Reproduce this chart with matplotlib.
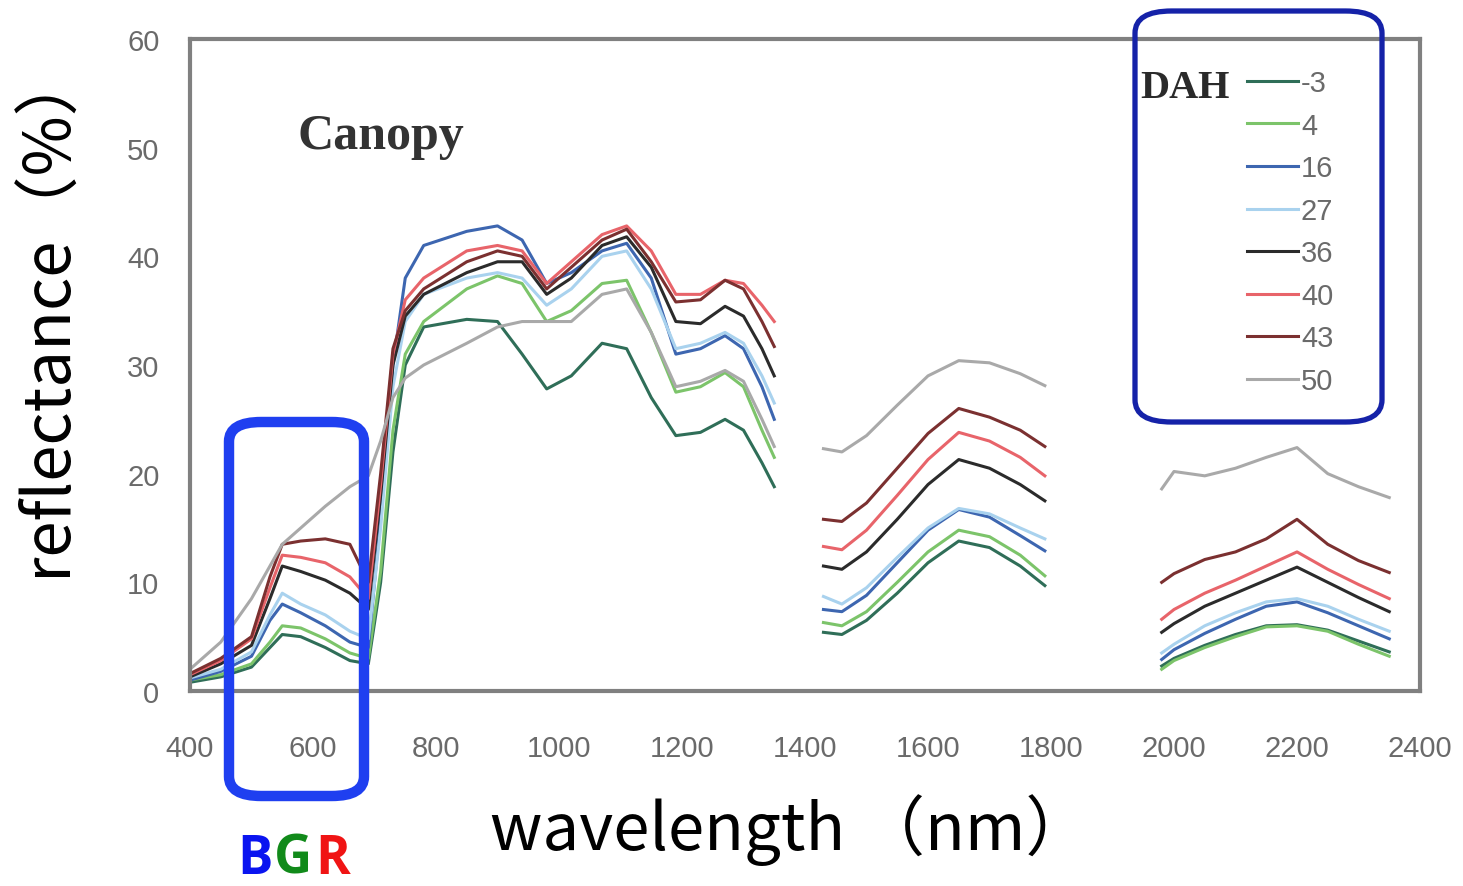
import matplotlib
matplotlib.use("Agg")
import matplotlib.pyplot as plt
from matplotlib.patches import FancyBboxPatch

# ---------------- data ----------------
dah_labels = ["-3", "4", "16", "27", "36", "40", "43", "50"]
colors = ["#2f6e58", "#7cc46a", "#3d66b0", "#a9d2ee", "#2b2b2b", "#e8646a", "#7b3030", "#a9a9a9"]

wl_seg1 = [400, 450, 500, 530, 550, 580, 620, 660, 690, 710, 730, 750, 780, 850, 900, 940,
           980, 1020, 1070, 1110, 1150, 1190, 1230, 1270, 1300, 1330, 1350]
wl_seg2 = [1430, 1460, 1500, 1550, 1600, 1650, 1700, 1750, 1790]
wl_seg3 = [1980, 2000, 2050, 2100, 2150, 2200, 2250, 2300, 2350]

seg1 = {
    "-3": [0.8, 1.3, 2.2, 4.0, 5.2, 5.0, 4.0, 2.8, 2.5, 10, 22, 30, 33.5, 34.2, 34, 31, 27.8, 29, 32, 31.5, 27, 23.5, 23.8, 25, 24, 21, 18.8],
    "4":  [1.0, 1.5, 2.5, 4.5, 6.0, 5.8, 4.8, 3.5, 3.0, 11, 24, 31, 34, 37, 38.2, 37.5, 34, 35, 37.5, 37.8, 33, 27.5, 28, 29.3, 28, 24, 21.5],
    "16": [1.0, 1.8, 3.2, 6.5, 8.0, 7.2, 6.0, 4.5, 4.0, 16, 30, 38, 41, 42.3, 42.8, 41.5, 37.5, 38.5, 40.5, 41.2, 38, 31, 31.5, 32.7, 31.5, 28, 25],
    "27": [1.2, 2.0, 3.6, 7.0, 9.0, 8.0, 7.0, 5.5, 4.8, 15, 28, 34, 36.5, 38, 38.5, 38, 35.5, 37, 40, 40.5, 37, 31.5, 32, 33, 32, 29, 26.5],
    "36": [1.3, 2.5, 4.2, 8.5, 11.5, 11.0, 10.2, 9.0, 7.5, 18, 30, 34.5, 36.5, 38.5, 39.5, 39.5, 36.5, 38, 41, 41.8, 39, 34, 33.8, 35.4, 34.5, 31.5, 29],
    "40": [1.5, 2.8, 4.8, 9.5, 12.5, 12.3, 11.8, 10.5, 8.5, 19, 31, 36, 38, 40.5, 41, 40.5, 37.5, 39.5, 42, 42.8, 40.5, 36.5, 36.5, 37.8, 37.5, 35.5, 34],
    "43": [1.6, 3.0, 5.0, 10.5, 13.5, 13.8, 14.0, 13.5, 10.0, 20, 31.5, 35, 37, 39.5, 40.5, 40, 37, 39, 41.5, 42.5, 39.5, 35.8, 36, 37.8, 37, 34, 31.7],
    "50": [2.0, 4.5, 8.5, 11.5, 13.5, 15, 17, 18.8, 19.8, 23, 27, 28.8, 30, 32, 33.5, 34, 34, 34, 36.5, 37, 33, 28, 28.5, 29.5, 28.5, 25, 22.5],
}
seg2 = {
    "-3": [5.4, 5.2, 6.5, 9.0, 11.8, 13.8, 13.2, 11.5, 9.7],
    "4":  [6.3, 6.0, 7.3, 10.0, 12.8, 14.8, 14.2, 12.5, 10.6],
    "16": [7.5, 7.3, 8.8, 11.8, 14.8, 16.7, 16.0, 14.3, 12.9],
    "27": [8.7, 8.0, 9.5, 12.3, 15.0, 16.8, 16.3, 15.0, 14.0],
    "36": [11.5, 11.2, 12.8, 15.8, 19.0, 21.3, 20.5, 19.0, 17.5],
    "40": [13.3, 13.0, 14.8, 18.0, 21.3, 23.8, 23.0, 21.5, 19.8],
    "43": [15.8, 15.6, 17.3, 20.5, 23.7, 26.0, 25.2, 24.0, 22.5],
    "50": [22.3, 22.0, 23.5, 26.3, 29.0, 30.4, 30.2, 29.2, 28.1],
}
seg3 = {
    "-3": [2.3, 3.0, 4.2, 5.2, 6.0, 6.1, 5.6, 4.6, 3.6],
    "4":  [2.0, 2.8, 4.0, 5.0, 5.9, 6.0, 5.5, 4.3, 3.2],
    "16": [2.9, 3.8, 5.3, 6.6, 7.8, 8.2, 7.2, 6.0, 4.8],
    "27": [3.5, 4.3, 6.0, 7.2, 8.2, 8.5, 7.8, 6.6, 5.5],
    "36": [5.4, 6.2, 7.8, 9.0, 10.2, 11.4, 10.0, 8.6, 7.3],
    "40": [6.6, 7.5, 9.0, 10.2, 11.5, 12.8, 11.2, 9.8, 8.5],
    "43": [10.0, 10.8, 12.1, 12.8, 14.0, 15.8, 13.5, 12.0, 10.9],
    "50": [18.6, 20.2, 19.8, 20.5, 21.5, 22.4, 20.0, 18.8, 17.8],
}

x_ticks = [400, 600, 800, 1000, 1200, 1400, 1600, 1800, 2000, 2200, 2400]
y_ticks = [0, 10, 20, 30, 40, 50, 60]

# ---------------- figure ----------------
W, H = 1463, 887
fig = plt.figure(figsize=(W / 100, H / 100), dpi=100)
ax = fig.add_axes([190 / W, 1 - 692 / H, (1420 - 190) / W, (692 - 40) / H])

tick_font = ["Liberation Sans", "DejaVu Sans"]
handles = []
for lab, col in zip(dah_labels, colors):
    h, = ax.plot(wl_seg1, seg1[lab], color=col, lw=2.2, label=lab)
    ax.plot(wl_seg2, seg2[lab], color=col, lw=2.2)
    ax.plot(wl_seg3, seg3[lab], color=col, lw=2.2)
    handles.append(h)

ax.set_xlim(400, 2400)
ax.set_ylim(0, 60)
ax.set_xticks(x_ticks)
ax.set_yticks(y_ticks)
ax.set_xticklabels([str(v) for v in x_ticks], family=tick_font, fontsize=21, color="#6a6a6a")
ax.set_yticklabels([str(v) for v in y_ticks], family=tick_font, fontsize=21, color="#6a6a6a")
ax.tick_params(axis="x", length=0, pad=31)
ax.tick_params(axis="y", length=0, pad=22)
for s in ax.spines.values():
    s.set_color("#808080")
    s.set_linewidth(3)

ax.text((298 - 190) / 1230, (692 - 137) / 652, "Canopy", transform=ax.transAxes, family="Liberation Serif",
        fontweight="bold", fontsize=36, color="#333333", va="center", ha="left")

leg = ax.legend(handles=handles, loc="upper left", bbox_to_anchor=((1247 - 190) / 1230, (692 - 70) / 652),
                frameon=False, handlelength=1.75, handletextpad=0.1, labelspacing=0.5,
                prop={"family": tick_font, "size": 21}, borderaxespad=0, borderpad=0)
for t in leg.get_texts():
    t.set_color("#6a6a6a")
ax.text((1140 - 190) / 1230, (692 - 88) / 652, "DAH", transform=ax.transAxes, family="Liberation Serif",
        fontweight="bold", fontsize=29, color="#2a2a2a", va="center", ha="left")

# axis labels
fig.text(47 / W, 1 - 310 / H, "reflectance（%）", rotation=90, family=["Noto Sans CJK SC", "DejaVu Sans"],
         fontsize=47, va="center", ha="center", color="black")
fig.text(790 / W, 1 - 830 / H, "wavelength （nm）", family=["Noto Sans CJK SC", "DejaVu Sans"],
         fontsize=47, va="center", ha="center", color="black")

# BGR
for ch, col, xp in [("B", "#0a14f0", 255), ("G", "#118a1a", 293), ("R", "#f01414", 333)]:
    fig.text(xp / W, 1 - 860 / H, ch, family=["Open Sans", "DejaVu Sans"], fontweight="bold",
             fontsize=38, color=col, va="center", ha="center")

# highlight boxes (figure pixel coords)
box1 = FancyBboxPatch((229 / W, 1 - 797 / H), (364 - 229) / W, (797 - 423) / H,
                      boxstyle="round,pad=0,rounding_size=0.022", transform=fig.transFigure,
                      fill=False, edgecolor="#1f3ff0", lw=7.5, clip_on=False)
box2 = FancyBboxPatch((1135 / W, 1 - 423 / H), (1382 - 1135) / W, (423 - 12) / H,
                      boxstyle="round,pad=0,rounding_size=0.025", transform=fig.transFigure,
                      fill=False, edgecolor="#1522a8", lw=3.8, clip_on=False)
fig.patches.extend([box1, box2])

fig.savefig("out.png", dpi=100)
